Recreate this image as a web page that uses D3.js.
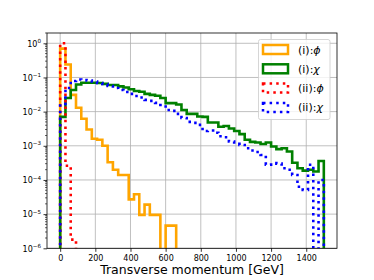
<!DOCTYPE html>
<html><head><meta charset="utf-8">
<script src="https://cdn.jsdelivr.net/npm/d3@7"></script>
<style>
body{margin:0;background:#fff}
svg{display:block}
text{font-family:"DejaVu Sans",sans-serif;fill:#000}
</style>
</head><body>
<svg id="c" width="374" height="280"></svg>
<script>
// ---- data ----
const binEdges = [0,30,60,90,120,150,180,210,240,270,300,330,360,390,420,450,480,510,540,570,
  600,630,660,690,720,750,780,810,840,870,900,930,960,990,1020,1050,1080,1110,1140,1170,
  1200,1230,1260,1290,1320,1350,1380,1410,1440,1470,1500];
const phiI = [0.7,0.24,0.031,0.013,0.0062,0.003,0.0016,0.0015,0.001,3.3e-4,2e-4,1.4e-4,1.4e-4,2.7e-5,3.8e-5,
  9.5e-6,1.9e-5,9.5e-6,9.5e-6,0,4.6e-6,4.6e-6,0,0,0,0,0,0,0,0,0,0,0,0,0,0,0,0,0,0,0,0,0,0,0,0,0,0,0,0];
const chiI = [0.0070,0.025,0.043,0.062,0.070,0.070,0.070,0.069,0.065,0.060,0.060,0.055,0.051,0.045,0.040,
  0.038,0.033,0.031,0.029,0.025,0.0177,0.0177,0.0162,0.0112,0.0086,0.0086,0.0072,0.0070,0.0048,0.0048,
  0.0036,0.0038,0.0032,0.0027,0.0022,0.0015,0.0013,0.00125,0.00113,0.00125,0.00095,0.0008,0.00085,0.00068,
  0.00032,0.00022,0.000187,0.0002,0.000176,0.00036];
const phiII = [1.0,2.6e-4,1.8e-6,0,0,0,0,0,0,0,0,0,0,0,0,0,0,0,0,0,0,0,0,0,0,0,0,0,0,0,0,0,0,0,0,0,0,0,0,0,0,0,0,0,0,0,0,0,0,0];
const chiII = [0.0168,0.0493,0.079,0.0874,0.0846,0.0817,0.0764,0.069,0.0645,0.0564,0.0493,0.0431,0.0377,0.033,
  0.0288,0.026,0.022,0.0206,0.018,0.0157,0.0112,0.0105,0.0086,0.0065,0.005,0.0047,0.0041,0.0027,0.0028,0.0024,
  0.0019,0.00177,0.00133,0.00114,0.00106,0.00085,0.00073,0.00066,0.00054,0.00028,0.00031,0.0003,0.00022,0.0002,
  0.00014,6.3e-5,5.1e-5,0.00028,0,1e-4];
const xTicks = [0,200,400,600,800,1000,1200,1400];
const yTicks = [1e-6,1e-5,1e-4,1e-3,1e-2,1e-1,1];
const yTickExp = ["−6","−5","−4","−3","−2","−1","0"];
const seriesNames = ["(i):", "(i):", "(ii):", "(ii):"];
const seriesSym = ["ϕ","χ","ϕ","χ"];
const xLabel = "Transverse momentum [GeV]";

// ---- layout ----
const L=47, R=337, T=33, B=248.3;
const svg = d3.select("#c");
const x = d3.scaleLinear().domain([-75,1575]).range([L,R]);
const y = d3.scaleLog().domain([1e-6,2]).range([B,T]);

// grid
const g = svg.append("g");
g.selectAll(".gx").data(xTicks).join("line")
  .attr("x1",d=>x(d)).attr("x2",d=>x(d)).attr("y1",T).attr("y2",B)
  .attr("stroke","#b0b0b0").attr("stroke-width",0.8);
g.selectAll(".gy").data(yTicks).join("line")
  .attr("x1",L).attr("x2",R).attr("y1",d=>y(d)).attr("y2",d=>y(d))
  .attr("stroke","#b0b0b0").attr("stroke-width",0.8);

// clip
svg.append("clipPath").attr("id","pc").append("rect")
  .attr("x",L).attr("y",T).attr("width",R-L).attr("height",B-T);

const yOff = B + 30;
function stepPts(vals){
  const pts=[[x(binEdges[0]), yOff]];
  vals.forEach((v,i)=>{
    const yy = v>0 ? y(v) : yOff;
    pts.push([x(binEdges[i]),yy],[x(binEdges[i+1]),yy]);
  });
  pts.push([x(binEdges[binEdges.length-1]), yOff]);
  return pts;
}
const line = d3.line();
const styles = [
  {vals:phiI, color:"orange", dash:null},
  {vals:chiI, color:"green", dash:null},
  {vals:phiII, color:"red", dash:"2.5,4.1"},
  {vals:chiII, color:"blue", dash:"2.5,4.1"}
];
const pg = svg.append("g").attr("clip-path","url(#pc)");
styles.forEach(s=>{
  pg.append("path").attr("d",line(stepPts(s.vals)))
    .attr("fill","none").attr("stroke",s.color).attr("stroke-width",2.6)
    .attr("stroke-linejoin","miter").attr("stroke-dasharray",s.dash);
});

// frame
svg.append("rect").attr("x",L).attr("y",T).attr("width",R-L).attr("height",B-T)
  .attr("fill","none").attr("stroke","#000").attr("stroke-width",0.8);

// x axis
const xa = svg.append("g").attr("transform",`translate(0,${B})`)
  .call(d3.axisBottom(x).tickValues(xTicks).tickSize(3.5).tickPadding(3.5).tickFormat(d3.format("d")));
xa.select(".domain").remove();
xa.selectAll("line").attr("stroke","#000").attr("stroke-width",0.8);
xa.selectAll("text").attr("font-size",8).attr("font-family","DejaVu Sans");

// y axis
const ya = svg.append("g").attr("transform",`translate(${L},0)`)
  .call(d3.axisLeft(y).tickValues(yTicks).tickSize(3.5).tickFormat(""));
ya.select(".domain").remove();
ya.selectAll("line").attr("stroke","#000").attr("stroke-width",0.8);
ya.selectAll(".tick").each(function(d,i){
  const t = d3.select(this).append("text").attr("x",-6).attr("y",2.8)
    .attr("text-anchor","end").attr("font-size",8);
  t.append("tspan").text("10");
  t.append("tspan").attr("dy",-3.6).attr("font-size",5.6).text(yTickExp[i]);
});
// minor ticks
const minors=[];
[-6,-5,-4,-3,-2,-1,0].forEach(e=>{for(let m=2;m<=9;m++){const v=m*Math.pow(10,e); if(v<=2) minors.push(v);}});
svg.append("g").selectAll("line").data(minors).join("line")
  .attr("x1",L-2).attr("x2",L).attr("y1",d=>y(d)).attr("y2",d=>y(d))
  .attr("stroke","#000").attr("stroke-width",0.6);

// x label
svg.append("text").attr("x",(L+R)/2).attr("y",274).attr("text-anchor","middle")
  .attr("font-size",12.5).text(xLabel);

// legend
const lg = svg.append("g");
lg.append("rect").attr("x",258.5).attr("y",39.5).attr("width",71.5).attr("height",80).attr("rx",2)
  .attr("fill","#fff").attr("fill-opacity",0.8).attr("stroke","#cccccc").attr("stroke-width",0.8);
styles.forEach((s,i)=>{
  const cy = 49.5 + i*19.3;
  lg.append("rect").attr("x",263).attr("y",cy-4.5).attr("width",25).attr("height",9)
    .attr("fill","none").attr("stroke",s.color).attr("stroke-width",2.5).attr("stroke-dasharray",s.dash);
  const t = lg.append("text").attr("x",298).attr("y",cy+4).attr("font-size",11);
  t.append("tspan").text(seriesNames[i]);
  t.append("tspan").attr("font-style","italic").text(seriesSym[i]);
});
</script>
</body></html>
